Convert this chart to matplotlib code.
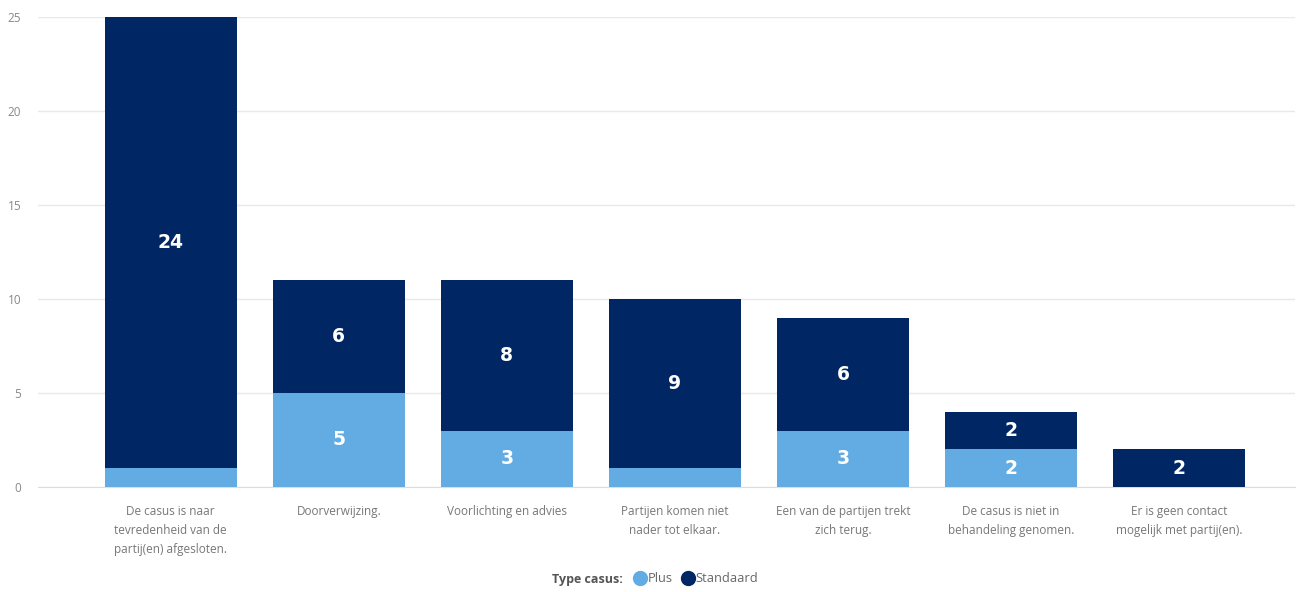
import matplotlib.pyplot as plt
from matplotlib.lines import Line2D

categorieen = ["De casus is naar\ntevredenheid van de\npartij(en) afgesloten.",
               "Doorverwijzing.",
               "Voorlichting en advies",
               "Partijen komen niet\nnader tot elkaar.",
               "Een van de partijen trekt\nzich terug.",
               "De casus is niet in\nbehandeling genomen.",
               "Er is geen contact\nmogelijk met partij(en)."]
plus = [1, 5, 3, 1, 3, 2, 0]
standaard = [24, 6, 8, 9, 6, 2, 2]

kleur_plus = "#62ace3"
kleur_std = "#002663"

plt.rcParams['font.family'] = ['Open Sans', 'DejaVu Sans']

fig = plt.figure(figsize=(12.98, 5.92), dpi=100)
ax = fig.add_axes([38/1298, 1-487/592, 1257/1298, 470/592])

x = list(range(len(categorieen)))
ax.bar(x, plus, width=0.786, color=kleur_plus, zorder=3)
ax.bar(x, standaard, width=0.786, bottom=plus, color=kleur_std, zorder=3)

# labels in het midden van elk stuk, alleen als het stuk groot genoeg is
for i in x:
    if plus[i] >= 2:
        ax.text(i, plus[i] / 2, str(plus[i]), ha="center", va="center", family="DejaVu Sans",
                color="white", fontsize=13.5, fontweight="bold", zorder=4)
    if standaard[i] >= 2:
        ax.text(i, plus[i] + standaard[i] / 2, str(standaard[i]), ha="center", va="center",
                family="DejaVu Sans", color="white", fontsize=13.5, fontweight="bold", zorder=4)

ax.set_xlim(-0.79, 6.69)
ax.set_ylim(0, 25)
ax.set_yticks([0, 5, 10, 15, 20, 25])
ax.set_xticks(x)
ax.set_xticklabels(categorieen, fontsize=8.5, color="#777777", linespacing=1.6)
ax.tick_params(axis="x", length=0, pad=13)
ax.tick_params(axis="y", length=0, pad=12, labelsize=8.5, labelcolor="#888888")
ax.grid(axis="y", color="#e8e8e8", linewidth=1, zorder=0)
for s in ["top", "right", "left"]:
    ax.spines[s].set_visible(False)
ax.spines["bottom"].set_color("#dddddd")

handles = [Line2D([], [], marker="o", linestyle="", markersize=10, color=kleur_plus),
           Line2D([], [], marker="o", linestyle="", markersize=10, color=kleur_std)]
fig.legend(handles, ["Plus", "Standaard"], loc="center left", bbox_to_anchor=(632/1298, 1-579/592),
           ncol=2, frameon=False, fontsize=9.3, handletextpad=0.0, columnspacing=0.6,
           handlelength=1.2, labelcolor="#666666", borderaxespad=0, borderpad=0)
fig.text(623/1298, 1-579/592, "Type casus:", ha="right", va="center", fontsize=9,
         fontweight="bold", color="#555555")

fig.savefig("out.png", dpi=100)
